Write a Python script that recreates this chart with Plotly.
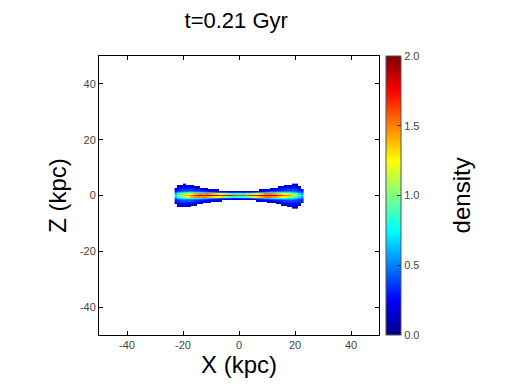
import plotly.graph_objects as go

_ = None  # empty bin (no particles)

TITLE = "t=0.21 Gyr"
X_TICKS = [-40, -20, 0, 20, 40]
X_TICKTEXT = ["-40", "-20", "0", "20", "40"]
Z_TICKS = [-40, -20, 0, 20, 40]
Z_TICKTEXT = ["-40", "-20", "0", "20", "40"]
CBAR_TICKS = [0.0, 0.5, 1.0, 1.5, 2.0]

# bin centres (kpc)
X_KPC = [-22.5, -21.5, -20.5, -19.5, -18.5, -17.5, -16.5, -15.5, -14.5, -13.5,
         -12.5, -11.5, -10.5, -9.5, -8.5, -7.5, -6.5, -5.5, -4.5, -3.5,
         -2.5, -1.5, -0.5, 0.5, 1.5, 2.5, 3.5, 4.5, 5.5, 6.5,
         7.5, 8.5, 9.5, 10.5, 11.5, 12.5, 13.5, 14.5, 15.5, 16.5,
         17.5, 18.5, 19.5, 20.5, 21.5, 22.5]
Z_KPC = [-4.5, -4.0, -3.5, -3.0, -2.5, -2.0, -1.5, -1.0, -0.5, 0.0,
         0.5, 1.0, 1.5, 2.0, 2.5, 3.0, 3.5, 4.0]

# density rows, one per Z bin
ROW_Z_M45 = [_,_,_,_,_,_,_,_,_,_, _,_,_,_,_,_,_,_,_,_, _,_,_,_,_,_,_,_,_,_, _,_,_,_,_,_,_,_,_,_, _,_,0.12,0.12,_,_]
ROW_Z_M40 = [_,0.12,0.15,0.15,0.12,0.1,_,_,_,_, _,_,_,_,_,_,_,_,_,_, _,_,_,_,_,_,_,_,_,_, _,_,_,_,_,_,_,_,_,_, 0.12,0.15,0.18,0.15,_,_]
ROW_Z_M35 = [_,0.2,0.22,0.2,0.22,0.18,0.15,0.12,_,_, _,_,_,_,_,_,_,_,_,_, _,_,_,_,_,_,_,_,_,_, _,_,_,_,_,_,_,_,0.12,0.15, 0.18,0.2,0.22,0.2,0.18,_]
ROW_Z_M30 = [0.2,0.25,0.28,0.25,0.28,0.25,0.22,0.2,0.18,0.15, _,_,_,_,_,_,_,_,_,_, _,_,_,_,_,_,_,_,_,_, _,_,_,_,_,_,0.15,0.18,0.2,0.22, 0.25,0.28,0.3,0.25,0.22,_]
ROW_Z_M25 = [0.25,0.3,0.32,0.35,0.3,0.32,0.3,0.28,0.25,0.22, 0.2,0.18,0.15,_,_,_,_,_,_,_, _,_,_,_,_,_,_,_,_,_, _,_,_,0.15,0.18,0.2,0.22,0.25,0.28,0.3, 0.32,0.35,0.32,0.3,0.28,0.25]
ROW_Z_M20 = [0.3,0.35,0.4,0.4,0.38,0.42,0.4,0.35,0.32,0.3, 0.28,0.25,0.22,0.2,0.2,0.18,0.15,_,_,_, _,_,_,_,_,_,_,_,_,0.15, 0.18,0.2,0.22,0.22,0.25,0.28,0.3,0.32,0.35,0.38, 0.4,0.42,0.4,0.38,0.35,0.3]
ROW_Z_M15 = [0.35,0.45,0.5,0.55,0.5,0.55,0.5,0.5,0.45,0.4, 0.4,0.35,0.3,0.28,0.25,0.22,0.2,0.2,0.18,0.18, 0.15,0.15,0.15,0.15,0.15,0.15,0.18,0.18,0.2,0.22, 0.25,0.28,0.3,0.35,0.4,0.4,0.45,0.45,0.5,0.55, 0.5,0.55,0.5,0.45,0.4,0.35]
ROW_Z_M10 = [0.5,0.6,0.7,0.75,0.8,0.75,0.8,0.7,0.7,0.65, 0.65,0.6,0.55,0.55,0.5,0.45,0.4,0.4,0.35,0.35, 0.35,0.3,0.35,0.35,0.35,0.35,0.4,0.4,0.45,0.5, 0.55,0.6,0.65,0.65,0.7,0.75,0.75,0.8,0.75,0.8, 0.7,0.7,0.65,0.6,0.5,0.45]
ROW_Z_M05 = [0.65,0.85,1.0,1.1,1.2,1.3,1.4,1.45,1.5,1.45, 1.5,1.45,1.4,1.35,1.3,1.25,1.15,1.05,1.0,0.9, 0.8,0.8,0.85,0.8,0.85,0.9,1.0,1.1,1.2,1.3, 1.4,1.45,1.5,1.55,1.5,1.45,1.4,1.35,1.25,1.2, 1.1,1.05,0.95,0.85,0.7,0.55]
ROW_Z_00 = [0.85,1.05,1.2,1.3,1.4,1.5,1.6,1.7,1.8,1.85, 1.8,1.85,1.9,1.85,1.85,1.8,1.75,1.8,1.85,1.8, 1.7,1.65,1.6,1.6,1.65,1.6,1.65,1.7,1.75,1.8, 1.85,1.9,1.9,1.9,1.85,1.85,1.8,1.7,1.65,1.55, 1.5,1.4,1.3,1.15,0.95,0.75]
ROW_Z_P05 = [0.6,0.8,0.95,1.05,1.15,1.25,1.3,1.4,1.45,1.5, 1.45,1.5,1.45,1.4,1.35,1.3,1.2,1.1,1.0,0.95, 0.85,0.8,0.8,0.85,0.8,0.9,0.95,1.05,1.15,1.25, 1.35,1.4,1.5,1.5,1.5,1.45,1.4,1.35,1.3,1.25, 1.15,1.1,1.0,0.9,0.7,0.55]
ROW_Z_P10 = [0.45,0.6,0.65,0.7,0.75,0.8,0.8,0.75,0.7,0.7, 0.65,0.6,0.6,0.55,0.5,0.5,0.45,0.4,0.4,0.35, 0.35,0.35,0.35,0.35,0.35,0.4,0.4,0.4,0.45,0.5, 0.55,0.6,0.6,0.65,0.7,0.7,0.75,0.75,0.8,0.75, 0.75,0.7,0.65,0.6,0.5,0.4]
ROW_Z_P15 = [0.3,0.4,0.45,0.5,0.5,0.55,0.5,0.45,0.45,0.4, 0.4,0.35,0.3,0.28,0.25,0.25,0.22,0.2,0.2,0.18, 0.15,0.15,0.15,0.15,0.15,0.18,0.18,0.2,0.2,0.22, 0.25,0.28,0.3,0.35,0.4,0.4,0.45,0.45,0.5,0.5, 0.55,0.5,0.5,0.45,0.4,0.3]
ROW_Z_P20 = [0.25,0.3,0.35,0.38,0.35,0.4,0.35,0.32,0.3,0.28, 0.25,0.22,0.22,0.2,0.18,0.15,_,_,_,_, _,_,_,_,_,_,_,_,_,_, 0.15,0.18,0.2,0.22,0.22,0.25,0.28,0.3,0.32,0.35, 0.38,0.35,0.4,0.35,0.3,0.25]
ROW_Z_P25 = [0.2,0.25,0.3,0.3,0.28,0.32,0.3,0.25,0.25,0.2, 0.18,0.15,_,_,_,_,_,_,_,_, _,_,_,_,_,_,_,_,_,_, _,_,_,_,0.15,0.2,0.22,0.25,0.28,0.3, 0.32,0.3,0.35,0.3,0.28,_]
ROW_Z_P30 = [_,0.2,0.25,0.22,0.25,0.2,0.22,0.18,0.15,_, _,_,_,_,_,_,_,_,_,_, _,_,_,_,_,_,_,_,_,_, _,_,_,_,_,_,_,0.15,0.2,0.22, 0.25,0.22,0.28,0.25,0.2,_]
ROW_Z_P35 = [_,0.15,0.2,0.18,0.2,0.15,0.12,_,_,_, _,_,_,_,_,_,_,_,_,_, _,_,_,_,_,_,_,_,_,_, _,_,_,_,_,_,_,_,_,0.12, 0.15,0.2,0.18,0.2,_,_]
ROW_Z_P40 = [_,_,_,0.12,_,_,_,_,_,_, _,_,_,_,_,_,_,_,_,_, _,_,_,_,_,_,_,_,_,_, _,_,_,_,_,_,_,_,_,_, _,_,0.12,0.15,_,_]

DENSITY = [ROW_Z_M45, ROW_Z_M40, ROW_Z_M35, ROW_Z_M30, ROW_Z_M25, ROW_Z_M20,
           ROW_Z_M15, ROW_Z_M10, ROW_Z_M05, ROW_Z_00, ROW_Z_P05, ROW_Z_P10,
           ROW_Z_P15, ROW_Z_P20, ROW_Z_P25, ROW_Z_P30, ROW_Z_P35, ROW_Z_P40]

JET = [[0.0, "rgb(0,0,128)"], [0.125, "rgb(0,0,255)"], [0.375, "rgb(0,255,255)"],
       [0.625, "rgb(255,255,0)"], [0.875, "rgb(255,0,0)"], [1.0, "rgb(128,0,0)"]]

FONT = "Liberation Sans, Arial, sans-serif"

fig = go.Figure(go.Heatmap(
    x=X_KPC, y=Z_KPC, z=DENSITY, zmin=0, zmax=2, colorscale=JET,
    hoverongaps=False,
    colorbar=dict(
        x=1.025, xanchor="left", xref="paper", y=0.5, yanchor="middle",
        len=1.0, lenmode="fraction", thickness=15, xpad=0, ypad=0,
        outlinewidth=1, outlinecolor="#555",
        tickvals=CBAR_TICKS, tickformat=".1f", tickprefix="\u2002",
        ticks="inside", ticklen=4,
        tickcolor="#333", tickfont=dict(family=FONT, size=11, color="#444"),
    ),
))

axis_common = dict(
    range=[-50, 50], showgrid=False, zeroline=False, showline=True,
    linecolor="black", linewidth=1, mirror="ticks", ticks="inside",
    ticklen=4, tickcolor="black", tickfont=dict(family=FONT, size=11, color="#444"),
)

# page has an 8px body margin, so layout is shifted accordingly
fig.update_layout(
    width=512, height=384,
    margin=dict(l=91, r=141, t=48, b=57),
    paper_bgcolor="white", plot_bgcolor="white",
    title=dict(text=TITLE, x=0.49, xref="paper", xanchor="center",
               y=1 - 12 / 384, yref="container", yanchor="middle",
               font=dict(family=FONT, size=22, color="black")),
    xaxis=dict(tickvals=X_TICKS, ticktext=X_TICKTEXT,
               title=dict(text="X (kpc)", standoff=2,
                          font=dict(family=FONT, size=24, color="black")), **axis_common),
    yaxis=dict(tickvals=Z_TICKS, ticktext=Z_TICKTEXT,
               title=dict(text="Z (kpc)", standoff=6,
                          font=dict(family=FONT, size=24, color="black")), **axis_common),
    annotations=[dict(text="density", textangle=-90, x=1.296, y=0.5,
                      xref="paper", yref="paper", showarrow=False,
                      xanchor="center", yanchor="middle",
                      font=dict(family=FONT, size=24, color="black"))],
)

fig.write_html("out.html")
